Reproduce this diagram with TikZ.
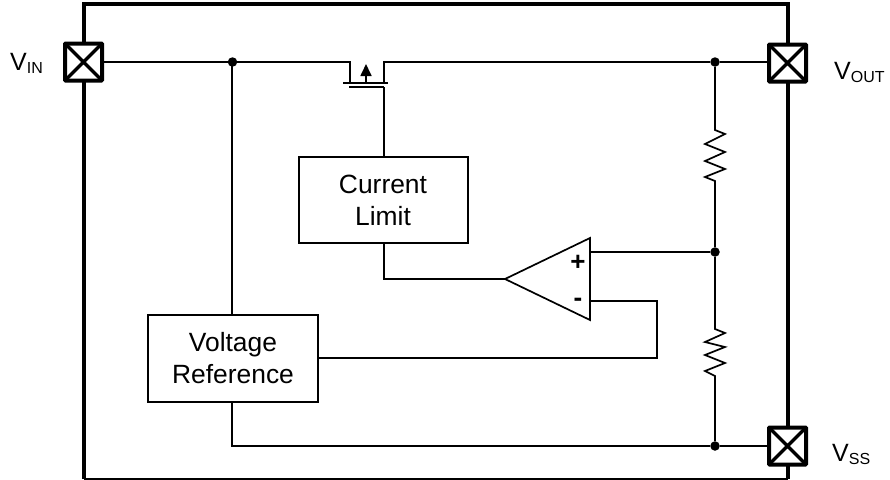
\documentclass[tikz,border=0pt]{standalone}
\usepackage{fontspec}
\setmainfont{Liberation Sans}
\usetikzlibrary{arrows.meta}
\tikzset{
  wire/.style={line width=1.7pt,line join=miter},
  frame/.style={line width=3.6pt},
  padbox/.style={draw,line width=4pt,fill=white,minimum size=37pt,inner sep=0pt,rounded corners=0.8pt,
    path picture={\draw[line width=3.4pt] (path picture bounding box.south west)--(path picture bounding box.north east)
      (path picture bounding box.north west)--(path picture bounding box.south east);}},
  blockbox/.style={draw,line width=2pt,fill=white,align=center,inner sep=0pt,font=\fontsize{26.4}{32}\selectfont},
  dotmark/.style={circle,fill=black,minimum size=9.5pt,inner sep=0pt},
  pinlabel/.style={inner sep=0pt,font=\fontsize{25}{28}\selectfont},
  sign/.style={inner sep=0pt,font=\bfseries\fontsize{26}{28}\selectfont}
}
\newcommand{\pinsub}[1]{\raisebox{-3pt}{\fontsize{16}{18}\selectfont #1}}
\begin{document}
\begin{tikzpicture}[x=1pt,y=-1pt]
\useasboundingbox (0,0) rectangle (890,479);
\clip (0,0) rectangle (890,479);
% outer package frame
\draw[frame] (84,479) -- (84,4) -- (788,4) -- (788,479);
\draw[line width=1.4pt] (84,479) -- (788,479);
% junctions
\node[dotmark] (j1) at (232.5,62) {};
\node[dotmark] (j2) at (715,62) {};
\node[dotmark] (j3) at (715,252) {};
\node[dotmark] (j4) at (715,446) {};
% pads
\node[padbox] (vin) at (83.5,62) {};
\node[padbox] (vout) at (787.5,63) {};
\node[padbox] (vss) at (787.5,446) {};
\node[pinlabel,anchor=base west] (lin) at (10,70) {V\pinsub{IN}};
\node[pinlabel,anchor=base west] (lout) at (834,79) {V\pinsub{OUT}};
\node[pinlabel,anchor=base west] (lss) at (832,461) {V\pinsub{SS}};
% blocks
\node[blockbox,minimum width=169pt,minimum height=86pt] (climit) at (383,200) {Current\\Limit};
\node[blockbox,minimum width=170pt,minimum height=87pt] (vref) at (233,358.5) {Voltage\\Reference};
% op-amp
\coordinate (otip) at (505,279);
\coordinate (otop) at (590,238);
\coordinate (obot) at (590,320);
\coordinate (oplus) at (590,252);
\coordinate (ominus) at (590,301);
\draw[wire] (otip) -- (otop) -- (obot) -- cycle;
\node[sign] (sp) at (578,263) {+};
\node[sign] (sm) at (578,302) {-};
% MOSFET
\coordinate (ml) at (350,62);
\coordinate (mr) at (384,62);
\coordinate (mlb) at (350,83);
\coordinate (mrb) at (384,83);
\coordinate (bl) at (343,83);
\coordinate (br) at (388,83);
\coordinate (gl) at (349,87);
\coordinate (gr) at (384,87);
\coordinate (am) at (366,83);
\coordinate (at) at (366,64);
\draw[wire] (bl) -- (br);
\draw[wire] (gl) -- (gr);
\draw[wire,-{Triangle[width=11pt,length=12pt]}] (am) -- (at);
\draw[wire] (vin.east) -- (j1) -- (ml) -- (mlb);
\draw[wire] (mrb) -- (mr) -- (j2) -- (vout.west |- j2);
\draw[wire] (gr) -- (climit.north -| gr);
% current limit to op-amp
\draw[wire] (climit.south -| gr) |- (otip);
% op-amp feedback
\draw[wire] (oplus) -- (j3);
\coordinate (fb) at (657,358);
\draw[wire] (ominus) -| (fb) -- (vref.east |- fb);
% supply rails
\coordinate (ru) at (232,62);
\draw[wire] (ru) -- (vref.north -| ru);
\draw[wire] (vref.south -| ru) |- (j4) -- (vss.west);
% divider
\coordinate (ra) at (715,130);
\coordinate (rb) at (715,181);
\coordinate (rc) at (715,329);
\coordinate (rd) at (715,376);
\draw[wire] (j2) -- (ra) -- ++(10,4) -- ++(-20,10) -- ++(20,8) -- ++(-20,9) -- ++(20,8) -- ++(-20,8) -- (rb) -- (j3);
\draw[wire] (j3) -- (rc) -- ++(10,4) -- ++(-20,9) -- ++(20,5) -- ++(-20,8) -- ++(20,8) -- ++(-20,8) -- (rd) -- (j4);
\end{tikzpicture}
\end{document}
